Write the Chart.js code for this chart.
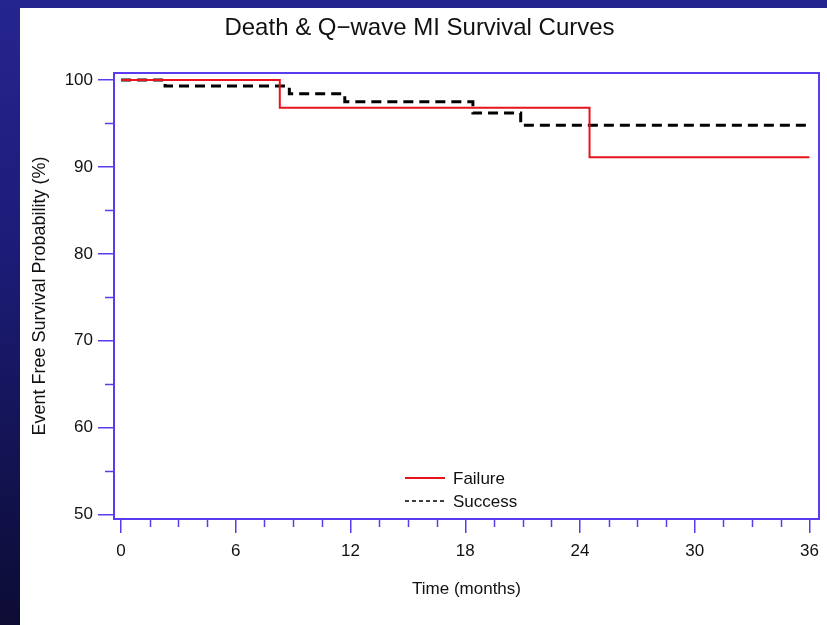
<!DOCTYPE html>
<html>
<head>
<meta charset="utf-8">
<script src="https://cdn.jsdelivr.net/npm/chart.js@4/dist/chart.umd.min.js"></script>
<style>
  html, body { margin: 0; padding: 0; }
  body {
    width: 827px; height: 625px; overflow: hidden; position: relative;
    background: linear-gradient(to bottom, #25258f 0%, #1c1c78 40%, #0c0c34 100%);
  }
  #panel { position: absolute; left: 20px; top: 8px; right: 0; bottom: 0; background: #fff; }
  #kmChart { position: absolute; left: 0; top: 0; }
</style>
</head>
<body>
<div id="panel"></div>
<canvas id="kmChart" width="827" height="625"></canvas>
<script>
// ---- data ----
var failureTimes  = [0, 8.3, 24.5, 36];
var failureValues = [100, 96.8, 91.1, 91.1];

var successTimes  = [0, 2.3, 8.8, 11.7, 18.4, 20.9, 36];
var successValues = [100, 99.3, 98.4, 97.5, 96.2, 94.8, 94.8];

var xTickStep = 1.5;   // minor ticks, labels every 6 months
var yTickStep = 5;     // minor ticks, labels every 10 %

var FONT = "'Liberation Sans', Arial, sans-serif";
var AXIS_BLUE = "#5a3cf0";

function toPoints(xs, ys) {
  var pts = [];
  xs.forEach(function (x, i) { pts.push({ x: x, y: ys[i] }); });
  return pts;
}

// box around the plot + short minor ticks + legend inside the plot
var kmExtras = {
  id: 'kmExtras',
  afterDraw: function (chart) {
    var ctx = chart.ctx, a = chart.chartArea;
    var xs = chart.scales.x, ys = chart.scales.y;
    ctx.save();
    ctx.strokeStyle = AXIS_BLUE;
    ctx.lineWidth = 2;
    ctx.strokeRect(a.left, a.top, a.right - a.left, a.bottom - a.top);

    ctx.lineWidth = 1.5;
    ctx.beginPath();
    xs.ticks.forEach(function (t) {
      if (t.value % 6 !== 0) {
        var px = Math.round(xs.getPixelForValue(t.value)) + 0.5;
        ctx.moveTo(px, a.bottom); ctx.lineTo(px, a.bottom + 8);
      }
    });
    ys.ticks.forEach(function (t) {
      if (t.value % 10 !== 0) {
        var py = Math.round(ys.getPixelForValue(t.value)) + 0.5;
        ctx.moveTo(a.left, py); ctx.lineTo(a.left - 9, py);
      }
    });
    ctx.stroke();

    // legend
    var lx = 405, ly = 478;
    ctx.font = "17px " + FONT;
    ctx.textBaseline = 'middle';
    chart.data.datasets.forEach(function (ds, i) {
      var y = ly + i * 23;
      ctx.strokeStyle = ds.borderColor;
      ctx.lineWidth = i === 0 ? 2 : 1.6;
      ctx.setLineDash(i === 0 ? [] : [4, 3]);
      ctx.beginPath(); ctx.moveTo(lx, y); ctx.lineTo(lx + 40, y); ctx.stroke();
      ctx.setLineDash([]);
      ctx.fillStyle = '#111';
      ctx.fillText(ds.label, lx + 48, y + 1);
    });
    ctx.restore();
  }
};

var kmChart = new Chart(document.getElementById('kmChart'), {
  type: 'line',
  data: {
    datasets: [{
      label: 'Failure',
      data: toPoints(failureTimes, failureValues),
      borderColor: '#e8141c',
      borderWidth: 2,
      stepped: true,
      pointRadius: 0,
      fill: false
    }, {
      label: 'Success',
      data: toPoints(successTimes, successValues),
      borderColor: '#000',
      borderWidth: 3,
      borderDash: [10, 6],
      stepped: true,
      pointRadius: 0,
      fill: false
    }]
  },
  options: {
    responsive: false,
    animation: false,
    layout: { padding: { left: 20, top: 8, right: 8, bottom: 0 } },
    plugins: {
      legend: { display: false },
      tooltip: { enabled: false },
      title: {
        display: true,
        text: 'Death & Q\u2212wave MI Survival Curves',
        color: '#111',
        font: { family: FONT, size: 24, weight: 'normal' },
        padding: { top: 6, bottom: 30.2 }
      }
    },
    scales: {
      x: {
        type: 'linear',
        min: -0.37,
        max: 36.5,
        afterFit: function (s) { s.height = 106; },
        border: { display: false },
        grid: {
          drawOnChartArea: false,
          tickLength: 14,
          lineWidth: 1.5,
          color: function (c) { return c.tick && c.tick.value % 6 === 0 ? AXIS_BLUE : 'rgba(0,0,0,0)'; }
        },
        ticks: {
          stepSize: xTickStep,
          includeBounds: false,
          autoSkip: false,
          maxRotation: 0,
          padding: 8,
          color: '#111',
          font: { family: FONT, size: 17 },
          callback: function (v) { return v % 6 === 0 ? v : ''; }
        },
        title: {
          display: true,
          text: 'Time (months)',
          color: '#111',
          font: { family: FONT, size: 17 },
          padding: { top: 0, bottom: 25 }
        }
      },
      y: {
        min: 49.5,
        max: 100.8,
        afterFit: function (s) { s.width = 94; },
        border: { display: false },
        grid: {
          drawOnChartArea: false,
          tickLength: 16,
          lineWidth: 1.5,
          color: function (c) { return c.tick && c.tick.value % 10 === 0 ? AXIS_BLUE : 'rgba(0,0,0,0)'; }
        },
        ticks: {
          stepSize: yTickStep,
          includeBounds: false,
          autoSkip: false,
          padding: 5,
          color: '#111',
          font: { family: FONT, size: 17 },
          callback: function (v) { return v % 10 === 0 ? v : ''; }
        },
        title: {
          display: true,
          text: 'Event Free Survival Probability (%)',
          color: '#111',
          font: { family: FONT, size: 18 },
          padding: { top: 9, bottom: 0 }
        }
      }
    }
  },
  plugins: [kmExtras]
});
</script>
</body>
</html>
